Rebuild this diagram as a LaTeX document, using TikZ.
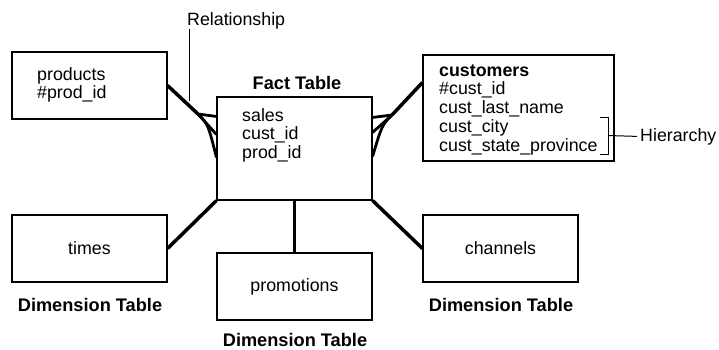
\documentclass[tikz,border=0pt]{standalone}
\usepackage{fontspec}
\setmainfont{Liberation Sans}
\usetikzlibrary{calc}

\tikzset{
  tbl/.style={draw, line width=1.1pt, inner sep=0pt},
  txt/.style={inner sep=0pt, align=left, font=\fontsize{17.8}{18.75}\selectfont},
  hdr/.style={inner sep=0pt, font=\fontsize{18.2}{20}\selectfont\bfseries},
  rel/.style={line width=3.5pt},
  foot/.style={line width=2.8pt},
  thin/.style={line width=1pt},
}

\begin{document}
\begin{tikzpicture}[x=1pt, y=-1pt]
    \useasboundingbox (0,0) rectangle (719,349);
    % Fact table
    \node[tbl, minimum width=155pt, minimum height=103pt] (fact) at (294.5,148.5) {};
    \node[txt, anchor=base west] (factcols) at (242,158.5) {sales\\cust\_id\\prod\_id};
    \node[hdr, anchor=base] (facthdr) at (297,89) {Fact Table};
    % Dimension tables
    \node[tbl, minimum width=155pt, minimum height=67pt] (products) at (89.5,85.5) {};
    \node[txt, anchor=base west] (prodcols) at (37,98.75) {products\\\#prod\_id};
    \node[tbl, minimum width=191pt, minimum height=106pt] (customers) at (518.5,108) {};
    \node[txt, anchor=base west] (custcols) at (439,151)
        {\textbf{customers}\\\#cust\_id\\cust\_last\_name\\cust\_city\\cust\_state\_province};
    \node[tbl, txt, minimum width=155pt, minimum height=67pt] (times) at (89.5,248.5) {times};
    \node[tbl, txt, minimum width=155pt, minimum height=67pt] (promotions) at (294.5,286.5) {promotions};
    \node[tbl, txt, minimum width=155pt, minimum height=67pt] (channels) at (500.5,248.5) {channels};
    \node[hdr, anchor=base] (dimtimes) at (90,311) {Dimension Table};
    \node[hdr, anchor=base] (dimpromo) at (295,346) {Dimension Table};
    \node[hdr, anchor=base] (dimchan) at (501,311) {Dimension Table};
    % Relationships
    \coordinate (pj) at (198,114);
    \draw[rel] (products.east) -- (pj);
    \draw[foot] (pj) -- ([yshift=-20pt]fact.north west);
    \draw[foot] (pj) -- ([yshift=-38pt]fact.north west);
    \draw[foot] (pj) .. controls (208,124) .. ([yshift=-61pt]fact.north west);
    \coordinate (cj) at (392,115);
    \draw[rel] ([yshift=-28pt]customers.north west) -- (cj);
    \draw[foot] (cj) -- ([yshift=-21pt]fact.north east);
    \draw[foot] (cj) -- ([yshift=-36pt]fact.north east);
    \draw[foot] (cj) .. controls (382,125) .. ([yshift=-60pt]fact.north east);
    \draw[rel] (times.east) -- (fact.south west);
    \draw[rel] (fact.south) -- (promotions.north);
    \draw[rel] (fact.south east) -- (channels.west);
    % Annotation
    \node[txt, anchor=base west] (relname) at (187,25) {Relationship};
    \coordinate (relend) at (189,101);
    \draw[thin] (relname.south west -| relend) -- (relend);
    \draw[thin] (600,117) -- (608,117) -- (608,154) -- (600,154);
    \coordinate (brk) at (608,135.5);
    \node[txt, anchor=base west] (hier) at (640,141) {Hierarchy};
    \draw[thin] (brk) -- ([xshift=-3pt]hier.west);
\end{tikzpicture}
\end{document}
